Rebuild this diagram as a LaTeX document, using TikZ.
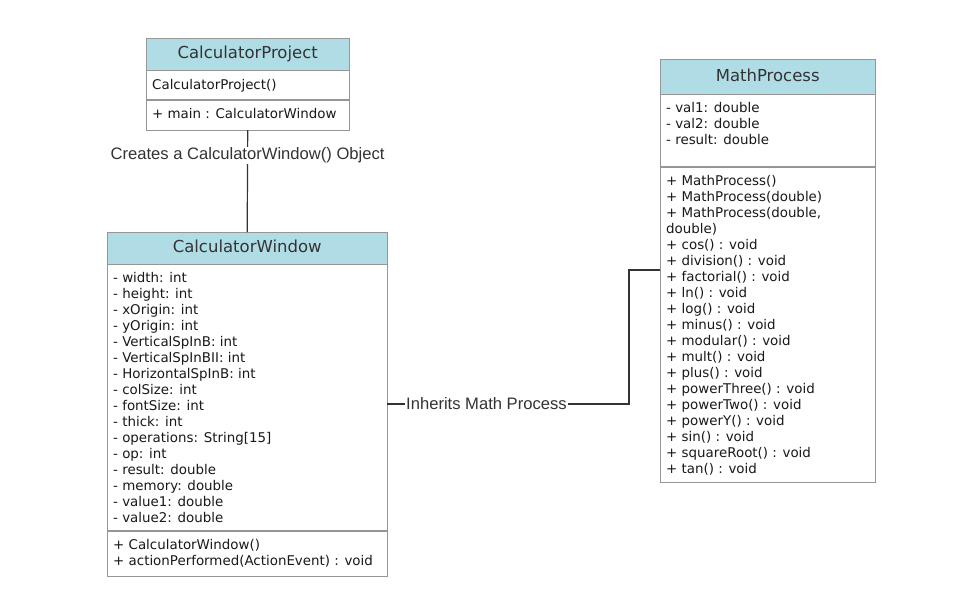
\documentclass[tikz,border=0pt]{standalone}
\usepackage{fontspec}
\setmainfont{DejaVu Sans}
\newfontfamily\labelfont{Liberation Sans}
\usetikzlibrary{positioning}

\definecolor{headblue}{RGB}{176,220,230}
\definecolor{boxgray}{RGB}{150,150,150}

\begin{document}
\begin{tikzpicture}
  [x=1pt, y=-1pt,
   head/.style={draw=boxgray, fill=headblue, anchor=north west, inner sep=0pt,
                text height=12pt, text depth=3pt,
                font=\fontsize{16.5}{16.5}\selectfont, text=black!80},
   part/.style={draw=boxgray, fill=white, anchor=north west, inner sep=0pt},
   entry/.style={anchor=west, inner sep=0pt, text height=10pt, text depth=3pt,
                 font=\fontsize{13.4}{13.4}\selectfont, text=black!90},
   link/.style={draw=black!80, line width=1.2pt},
   note/.style={fill=white, inner sep=1pt, font=\labelfont\fontsize{16.6}{16.6}\selectfont, text=black!80}]
  \useasboundingbox (0,0) rectangle (972,608);

  % CalculatorProject
  \node (proj) [head, minimum width=203, minimum height=32] at (146,38) {CalculatorProject};
  \node (projctor) [part, minimum width=203, minimum height=29] at (proj.south west) {};
  \node (projattr) [part, minimum width=203, minimum height=30] at (projctor.south west) {};
  \node (projc1) [entry] at (152,85.5) {CalculatorProject()};
  \node (proja1) [entry] at (152,114.5) {+ main : CalculatorWindow};

  % CalculatorWindow
  \node (win) [head, minimum width=280, minimum height=32] at (107,232) {CalculatorWindow};
  \node (winattr) [part, minimum width=280, minimum height=266] at (win.south west) {};
  \node (winmeth) [part, minimum width=280, minimum height=45] at (winattr.south west) {};
  \foreach \t [count=\i] in {{- width: int}, {- height: int}, {- xOrigin: int}, {- yOrigin: int},
      {- VerticalSpInB: int}, {- VerticalSpInBII: int}, {- HorizontalSpInB: int},
      {- colSize: int}, {- fontSize: int}, {- thick: int}, {- operations: String[15]},
      {- op: int}, {- result: double}, {- memory: double}, {- value1: double}, {- value2: double}} {
    \node (wina\i) [entry] at (113,{262.5+16*\i}) {\t};
  };
  \foreach \t [count=\i] in {{+ CalculatorWindow()}, {+ actionPerformed(ActionEvent) : void}} {
    \node (winm\i) [entry] at (113,{529.5+16*\i}) {\t};
  };

  % MathProcess
  \node (mp) [head, minimum width=215, minimum height=35] at (660,59) {MathProcess};
  \node (mpattr) [part, minimum width=215, minimum height=72] at (mp.south west) {};
  \node (mpmeth) [part, minimum width=215, minimum height=315] at (mpattr.south west) {};
  \foreach \t [count=\i] in {{- val1: double}, {- val2: double}, {- result: double}} {
    \node (mpa\i) [entry] at (666,{92.5+16*\i}) {\t};
  };
  \foreach \t [count=\i] in {{+ MathProcess()}, {+ MathProcess(double)}, {+ MathProcess(double,},
      {double)}, {+ cos() : void}, {+ division() : void}, {+ factorial() : void},
      {+ ln() : void}, {+ log() : void}, {+ minus() : void}, {+ modular() : void},
      {+ mult() : void}, {+ plus() : void}, {+ powerThree() : void}, {+ powerTwo() : void},
      {+ powerY() : void}, {+ sin() : void}, {+ squareRoot() : void}, {+ tan() : void}} {
    \node (mpm\i) [entry] at (666,{165.5+16*\i}) {\t};
  };

  % connectors
  \coordinate (inh) at (629,404);
  \coordinate (bend) at (629,270);
  \draw [link] (projattr.south) -- node [note, pos=.25] {Creates a CalculatorWindow() Object} (win.north);
  \draw [link] (inh -| winattr.east) -- node [note, pos=.41] {Inherits Math Process} (inh)
     -- (bend) -- (bend -| mpmeth.west);
\end{tikzpicture}
\end{document}
